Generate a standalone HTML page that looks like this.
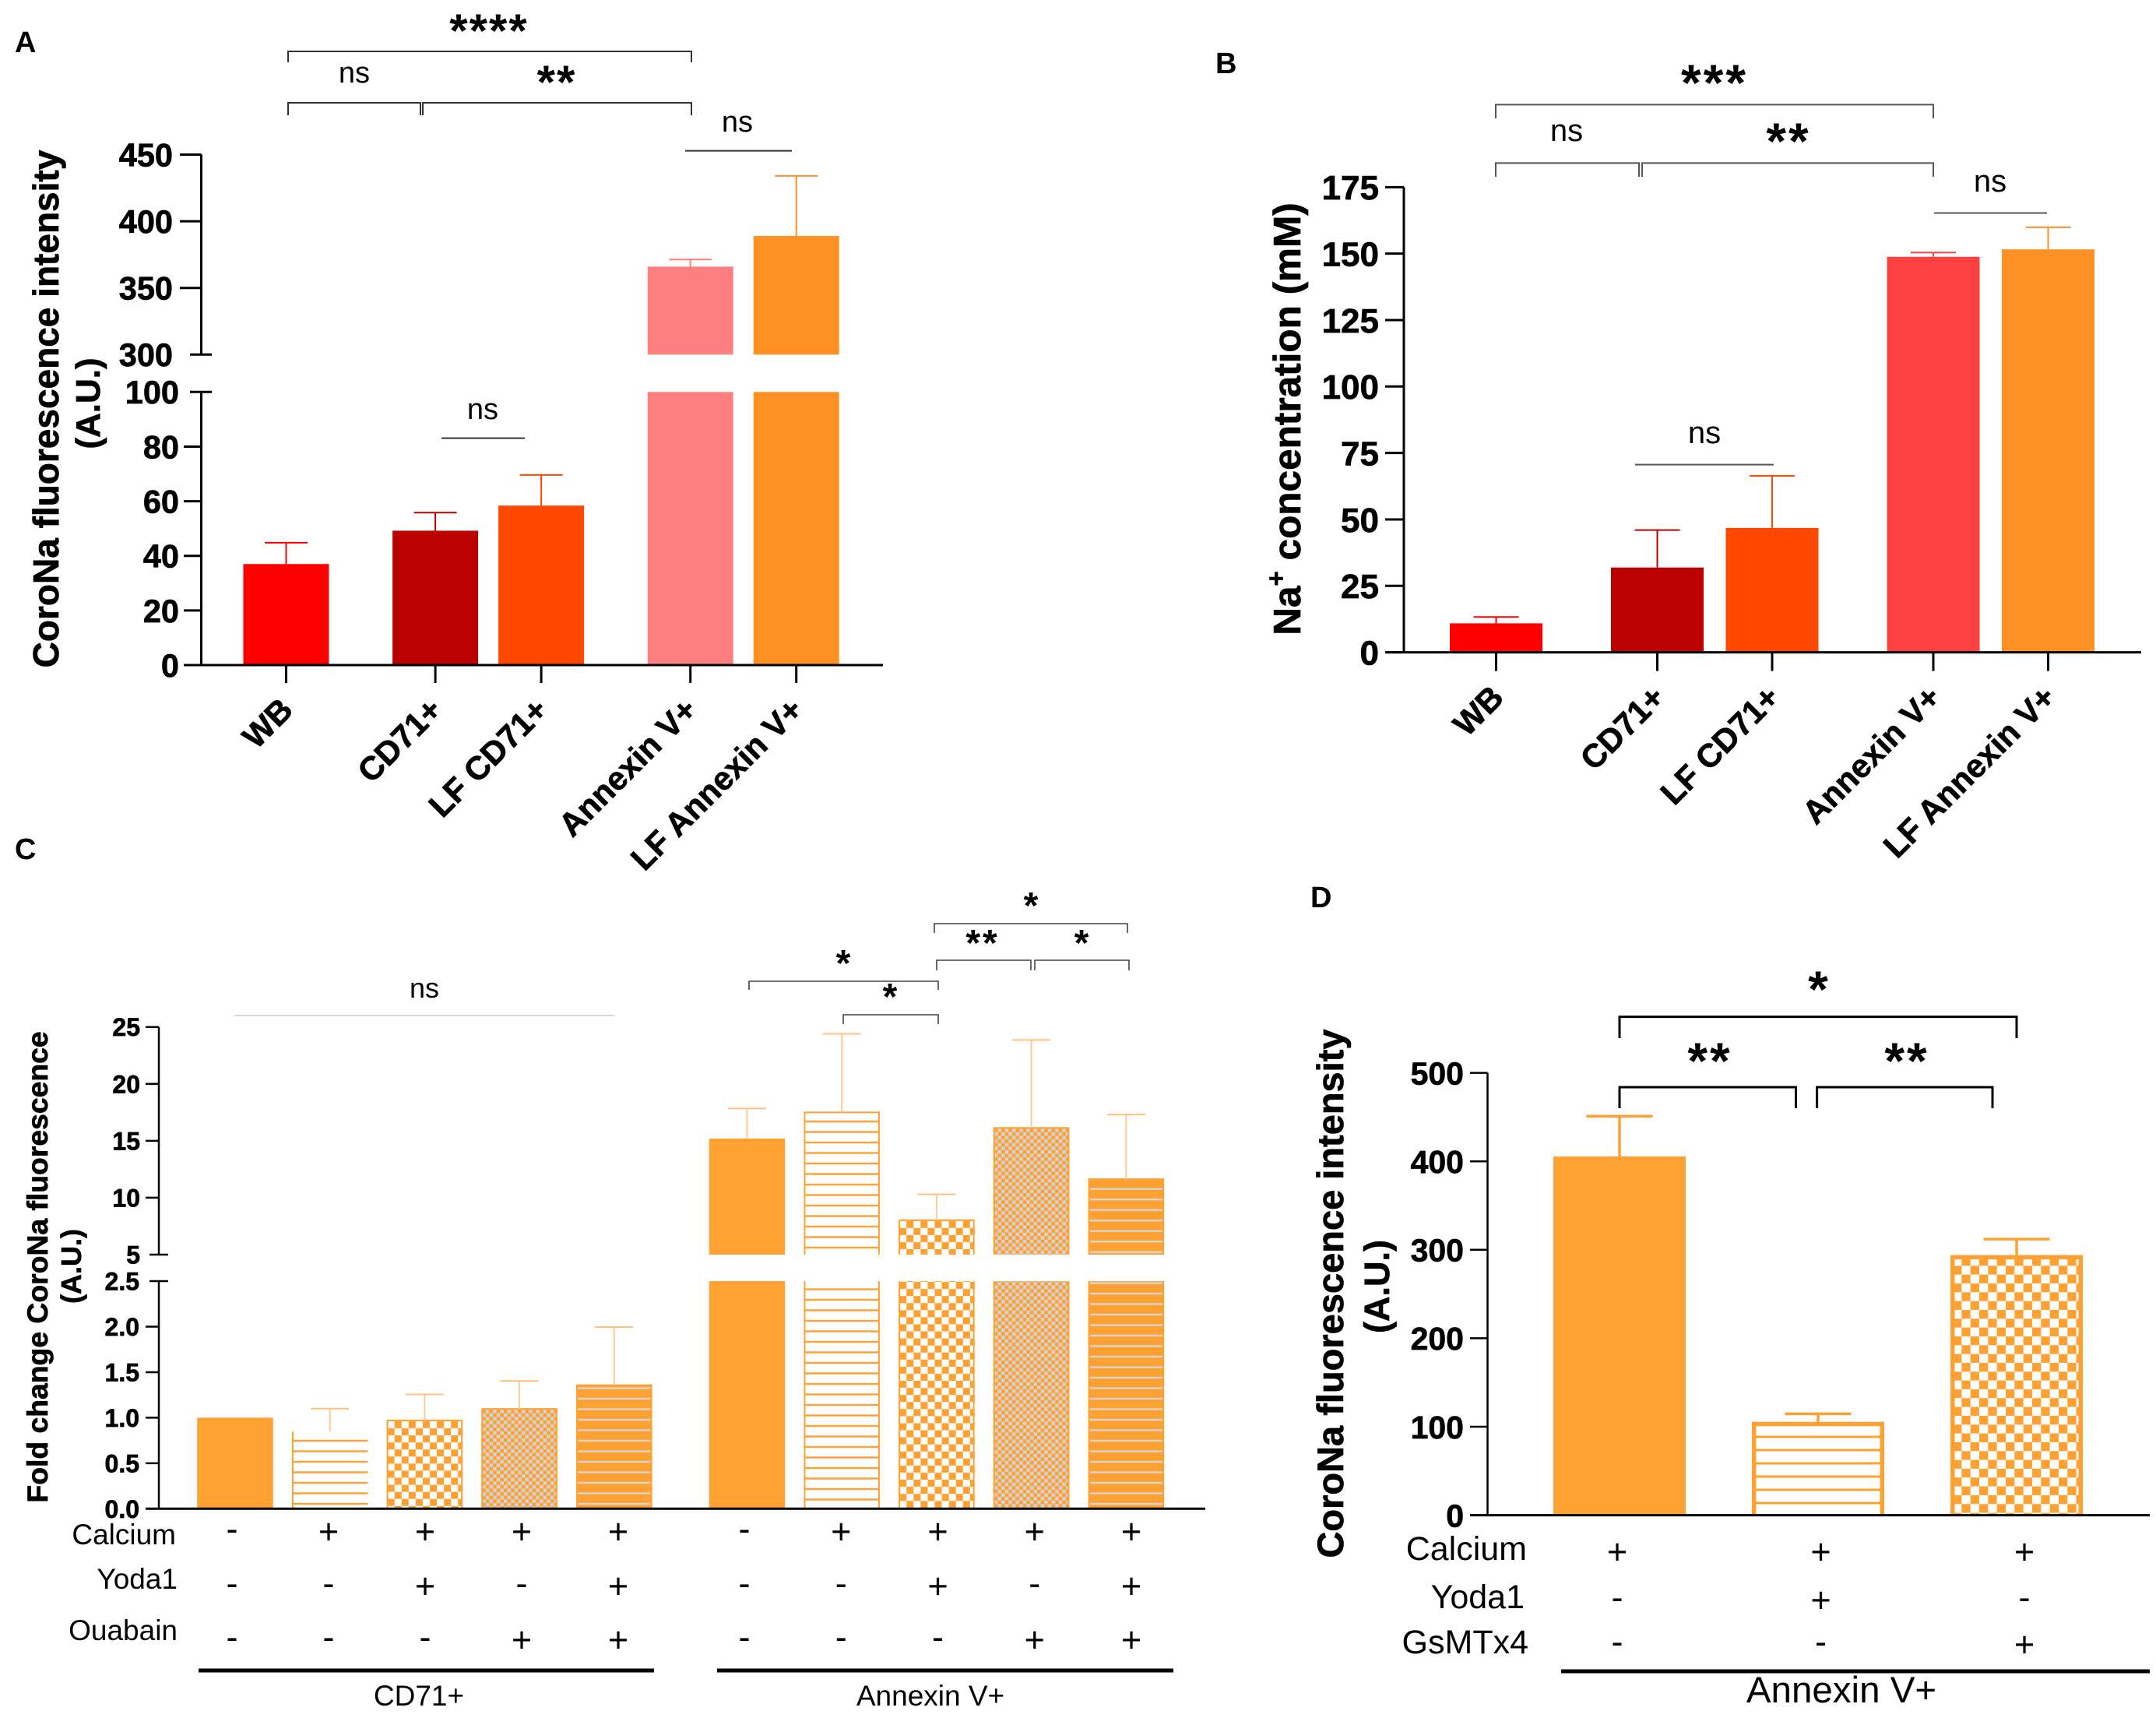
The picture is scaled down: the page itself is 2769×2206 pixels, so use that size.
<!DOCTYPE html>
<html lang="en">
<head>
<meta charset="utf-8">
<title>CoroNa fluorescence and Na+ concentration panels</title>
<style>
html,body{margin:0;padding:0;background:#fff;}
svg{display:block;}
text{font-family:"Liberation Sans",Arial,sans-serif;fill:#000;}
.b{font-weight:bold;}
.m{text-anchor:middle;}
.s{stroke:#000;stroke-width:.7px;}
</style>
</head>
<body>
<svg id="figure" xmlns="http://www.w3.org/2000/svg" width="2769" height="2206" viewBox="0 0 2769 2206">
<defs id="pattern-defs"></defs>
<rect x="0" y="0" width="2769" height="2206" fill="#fff"/>

<g id="panel-a"></g>
<g id="panel-b"></g>
<g id="panel-c"></g>
<g id="panel-d"></g>

<text class="b" x="19" y="67" font-size="38">A</text>
<text class="b" x="1561" y="94" font-size="38">B</text>
<text class="b" x="19" y="1103" font-size="38">C</text>
<text class="b" x="1683" y="1165" font-size="38">D</text>

<!-- Panel A annotations -->
<text class="b m s" font-size="46" transform="translate(75 525) rotate(-90)">CoroNa fluorescence intensity</text>
<text class="b m s" font-size="44" transform="translate(128 518) rotate(-90)">(A.U.)</text>
<g fill="none" stroke="#333" stroke-width="2">
<path d="M370 80V66H888V80"/>
<path d="M370 148V132H540V148"/>
<path d="M543 148V132H888V148"/>
<path d="M880 193.6H1017"/>
<path d="M567 562.6H674"/>
</g>
<text class="b m" font-size="60" letter-spacing="2" x="628" y="60">****</text>
<text class="m" font-size="38" x="455" y="106">ns</text>
<text class="b m" font-size="60" letter-spacing="2" x="715" y="126">**</text>
<text class="m" font-size="38" x="947" y="169">ns</text>
<text class="m" font-size="38" x="620" y="538">ns</text>

<!-- Panel B annotations -->
<text class="b m s" font-size="49.5" transform="translate(1670 538) rotate(-90)">Na<tspan dy="-20" font-size="33">+</tspan><tspan dy="20"> concentration (mM)</tspan></text>
<g fill="none" stroke="#555" stroke-width="2">
<path d="M1921 152V134.4H2483V152"/>
<path d="M1921 227V209.4H2105V227"/>
<path d="M2109 227V209.4H2483V227"/>
<path d="M2484 273.5H2629"/>
<path d="M2100 596.6H2278"/>
</g>
<text class="b m" font-size="66" letter-spacing="3" x="2202" y="129">***</text>
<text class="m" font-size="40" x="2012" y="181">ns</text>
<text class="b m" font-size="66" letter-spacing="3" x="2297" y="204">**</text>
<text class="m" font-size="40" x="2556" y="246">ns</text>
<text class="m" font-size="40" x="2189" y="569">ns</text>

<!-- Panel C annotations -->
<text class="b m s" font-size="37.3" transform="translate(61 1627) rotate(-90)">Fold change CoroNa fluorescence</text>
<text class="b m s" font-size="36" transform="translate(104 1626) rotate(-90)">(A.U.)</text>
<text font-size="37" text-anchor="end" x="226" y="1983">Calcium</text>
<text font-size="37" text-anchor="end" x="228" y="2040">Yoda1</text>
<text font-size="37" text-anchor="end" x="228" y="2106">Ouabain</text>
<rect x="255" y="2142.5" width="585" height="5" fill="#000"/>
<rect x="921" y="2142.5" width="586" height="5" fill="#000"/>
<text class="m" font-size="37" x="538" y="2190">CD71+</text>
<text class="m" font-size="37" x="1195" y="2190">Annexin V+</text>
<g fill="none" stroke="#444" stroke-width="1.6">
<path d="M1200 1198V1186H1448V1198"/>
<path d="M1203 1246V1233H1324V1246"/>
<path d="M1329 1246V1233H1450V1246"/>
<path d="M962 1271V1260H1205V1271"/>
<path d="M1083 1315V1303H1205V1315"/>
</g>
<path d="M301 1304H789" fill="none" stroke="#ccc" stroke-width="1.6"/>
<text class="m" font-size="36" x="545" y="1281">ns</text>
<text class="b m" font-size="48" x="1324" y="1179">*</text>
<text class="b m" font-size="48" letter-spacing="3" x="1262" y="1227">**</text>
<text class="b m" font-size="48" x="1389" y="1227">*</text>
<text class="b m" font-size="48" x="1083" y="1253">*</text>
<text class="b m" font-size="48" x="1143" y="1296">*</text>

<!-- Panel D annotations -->
<text class="b m s" font-size="47" transform="translate(1725 1661) rotate(-90)">CoroNa fluorescence intensity</text>
<text class="b m s" font-size="45" transform="translate(1784 1652) rotate(-90)">(A.U.)</text>
<text font-size="43" text-anchor="end" x="1961" y="2003">Calcium</text>
<text font-size="43" text-anchor="end" x="1958" y="2065">Yoda1</text>
<text font-size="43" text-anchor="end" x="1963" y="2123">GsMTx4</text>
<rect x="2005" y="2143.5" width="756" height="5" fill="#000"/>
<text class="m" font-size="47.5" x="2365" y="2186">Annexin V+</text>
<g fill="none" stroke="#000" stroke-width="3">
<path d="M2080 1333V1305.6H2590V1333"/>
<path d="M2080 1423V1396H2306.5V1423"/>
<path d="M2333.6 1423V1396H2559V1423"/>
</g>
<text class="b m" font-size="66" x="2335" y="1293">*</text>
<text class="b m" font-size="66" letter-spacing="3" x="2196" y="1385">**</text>
<text class="b m" font-size="66" letter-spacing="3" x="2449" y="1385">**</text>
</svg>

<script>
// ---------- Panel A data ----------
const panelACategories = ['WB', 'CD71+', 'LF CD71+', 'Annexin V+', 'LF Annexin V+'];
const panelAGroups = [0, 1, 1, 2, 2];
const panelAValues = [37, 49.2, 58.4, 366, 389];
const panelAErrorTops = [44.8, 55.8, 69.6, 371.3, 434];
const panelATickLabels = [0, 20, 40, 60, 80, 100, 300, 350, 400, 450];

// ---------- Panel B data ----------
const panelBCategories = ['WB', 'CD71+', 'LF CD71+', 'Annexin V+', 'LF Annexin V+'];
const panelBGroups = [0, 1, 1, 2, 2];
const panelBValues = [10.9, 31.9, 46.8, 148.8, 151.6];
const panelBErrorTops = [13.3, 46, 66.4, 150.4, 159.9];
const panelBTickLabels = [0, 25, 50, 75, 100, 125, 150, 175];

// ---------- Panel C data ----------
const panelCGroups = [0, 0, 0, 0, 0, 1, 1, 1, 1, 1];
const panelCValues = [1.0, 0.847, 0.97, 1.096, 1.357, 15.2, 17.5, 8.03, 16.14, 11.63];
const panelCErrorTops = [1.0, 1.10, 1.256, 1.404, 1.996, 17.84, 24.4, 10.3, 23.86, 17.3];
const panelCLowerTicks = ['0.0', '0.5', '1.0', '1.5', '2.0', '2.5'];
const panelCUpperTicks = ['5', '10', '15', '20', '25'];
const panelCCalcium = ['-', '+', '+', '+', '+', '-', '+', '+', '+', '+'];
const panelCYoda1 = ['-', '-', '+', '-', '+', '-', '-', '+', '-', '+'];
const panelCOuabain = ['-', '-', '-', '+', '+', '-', '-', '-', '+', '+'];

// ---------- Panel D data ----------
const panelDValues = [405.5, 105.5, 294];
const panelDErrorTops = [451, 114.6, 312];
const panelDTickLabels = [0, 100, 200, 300, 400, 500];
const panelDCalcium = ['+', '+', '+'];
const panelDYoda1 = ['-', '+', '-'];
const panelDGsMTx4 = ['-', '-', '+'];

// ---------- Axis functions ----------
function yA(v) { return v <= 100 ? 854 - v * 3.507 : 455.3 - (v - 300) * 1.712; }
function xA(i) { return 367.5 + i * 136 + panelAGroups[i] * 55.6; }
function yB(v) { return 837.6 - v * 3.413; }
function xB(i) { return 1921.5 + i * 147.5 + panelBGroups[i] * 59.5; }
function yC(v) { return v <= 2.5 ? 1937.3 - v * 116.9 : 1611 - (v - 5) * 14.615; }
function xC(i) { return 302 + i * 121.7 + panelCGroups[i] * 49; }
function signXC(i) { return panelCGroups[i] ? 956 + (i - 5) * 124.25 : 298 + i * 124; }
function yD(v) { return 1945.6 - v * 1.136; }
function xD(i) { return 2080 + i * 255; }
function signXD(i) { return 2077 + i * 261.5; }

const SVG_NS = 'http://www.w3.org/2000/svg';
const ORANGE = '#ffa033';
const defs = document.getElementById('pattern-defs');
let patternId = 0;

function mk(parent, tag, attrs, txt) {
  const el = document.createElementNS(SVG_NS, tag);
  for (const k in attrs) el.setAttribute(k, attrs[k]);
  if (txt !== undefined) el.textContent = txt;
  parent.appendChild(el);
  return el;
}

function checkPattern(cell, c1, c2, x0, y0) {
  const id = 'pat' + (patternId++);
  const p = mk(defs, 'pattern', { id: id, patternUnits: 'userSpaceOnUse', x: x0, y: y0, width: cell * 2, height: cell * 2 });
  mk(p, 'rect', { x: 0, y: 0, width: cell * 2, height: cell * 2, fill: c2 });
  mk(p, 'rect', { x: 0, y: 0, width: cell, height: cell, fill: c1 });
  mk(p, 'rect', { x: cell, y: cell, width: cell, height: cell, fill: c1 });
  return 'url(#' + id + ')';
}

function linePattern(period, thick, bg, lineColor, anchorY) {
  const id = 'pat' + (patternId++);
  const p = mk(defs, 'pattern', { id: id, patternUnits: 'userSpaceOnUse', x: 0, y: anchorY - thick / 2, width: 40, height: period });
  mk(p, 'rect', { x: 0, y: 0, width: 40, height: period, fill: bg });
  mk(p, 'rect', { x: 0, y: 0, width: 40, height: thick, fill: lineColor });
  return 'url(#' + id + ')';
}

function drawAxisLine(g, x1, y1, x2, y2, w) {
  const el = mk(g, 'line', { x1: x1, y1: y1, x2: x2, y2: y2, stroke: '#000', 'stroke-width': w });
  
  
}

function drawTick(g, x1, y1, x2, y2, w) {
  const el = mk(g, 'line', { x1: x1, y1: y1, x2: x2, y2: y2, stroke: '#000', 'stroke-width': w });
  
  
}

function drawTickLabel(g, x, y, label, fs) {
  const el = mk(g, 'text', { x: x, y: y + fs * 0.36, 'font-size': fs, 'font-weight': 'bold', 'text-anchor': 'end', class: 's' }, label);
  
  
}

function drawBarRect(g, x, y1, y2, w, fill) {
  const el = mk(g, 'rect', { x: x - w / 2, y: y1, width: w, height: y2 - y1, fill: fill });
  
  
  return el;
}

function drawBarBorder(g, d, color, w) {
  const el = mk(g, 'path', { d: d, fill: 'none', stroke: color, 'stroke-width': w });
  
  
}

function drawError(g, x, yBar, yTop, halfCap, lineColor, capColor, w) {
  const stem = mk(g, 'line', { x1: x, y1: yBar, x2: x, y2: yTop, stroke: lineColor, 'stroke-width': w });
  
  
  const cap = mk(g, 'line', { x1: x - halfCap, y1: yTop, x2: x + halfCap, y2: yTop, stroke: capColor, 'stroke-width': w });
  
  
}

function drawRotatedLabel(g, x, y, label, fs) {
  const el = mk(g, 'text', { transform: 'translate(' + x + ' ' + y + ') rotate(-45)', 'font-size': fs, 'font-weight': 'bold', 'text-anchor': 'end', class: 's' }, label);
  
  
}

function drawSign(g, x, y, sign) {
  const fs = 45;
  const el = mk(g, 'text', { x: x, y: y + fs * (sign === '+' ? 0.35 : 0.28), 'font-size': fs, 'text-anchor': 'middle' }, sign);
  
  
}

// ---------- Panel A ----------
(function () {
  const g = document.getElementById('panel-a');
  const colors = ['#ff0000', '#bb0000', '#ff4800', '#ff8080', '#ff9124'];
  panelAValues.forEach(function (v, i) {
    const x = xA(i);
    drawBarRect(g, x, yA(Math.min(v, 100)), yA(0), 110, colors[i]);
    if (v > 100) drawBarRect(g, x, yA(v), yA(300), 110, colors[i]);
    drawError(g, x, yA(v), yA(panelAErrorTops[i]), 27.5, colors[i], colors[i], 2);
    drawTick(g, x, yA(0), x, yA(0) + 23, 3);
    drawRotatedLabel(g, x + 11, 914, panelACategories[i], 42);
  });
  drawAxisLine(g, 258.5, yA(450), 258.5, yA(300), 3);
  drawAxisLine(g, 258.5, yA(100), 258.5, yA(0), 3);
  drawAxisLine(g, 236, yA(0), 1134, yA(0), 3);
  panelATickLabels.forEach(function (t) {
    const broken = t === 100 || t === 300;
    const upper = t >= 300;
    const left = broken ? 244 : (upper ? 231 : 236);
    drawTick(g, left, yA(t), broken ? 272 : 258.5, yA(t), 3);
    drawTickLabel(g, upper ? 222 : 230, yA(t), String(t), 41.5);
  });
})();

// ---------- Panel B ----------
(function () {
  const g = document.getElementById('panel-b');
  const colors = ['#ff0000', '#bb0000', '#ff4800', '#ff4040', '#ff9124'];
  panelBValues.forEach(function (v, i) {
    const x = xB(i);
    drawBarRect(g, x, yB(v), yB(0), 119, colors[i]);
    drawError(g, x, yB(v), yB(panelBErrorTops[i]), 29, colors[i], colors[i], 2);
    drawTick(g, x, yB(0), x, yB(0) + 24, 3);
    drawRotatedLabel(g, x + 12, 898, panelBCategories[i], 42);
  });
  drawAxisLine(g, 1803, yB(175), 1803, yB(0), 3);
  drawAxisLine(g, 1779, yB(0), 2750, yB(0), 3);
  panelBTickLabels.forEach(function (t) {
    drawTick(g, 1779, yB(t), 1803, yB(t), 3);
    drawTickLabel(g, 1771, yB(t), String(t), 44);
  });
})();

// ---------- Panel C ----------
(function () {
  const g = document.getElementById('panel-c');
  const w = 97.5;
  function kindOf(i) {
    if (panelCCalcium[i] === '-') return 'solid';
    const y = panelCYoda1[i] === '+';
    const o = panelCOuabain[i] === '+';
    return y && o ? 'band' : y ? 'check' : o ? 'fine' : 'hatch';
  }
  function paint(kind, left, topY, isUpper, group) {
    if (kind === 'solid') return ORANGE;
    if (kind === 'hatch') return linePattern(13.5, 2.4, '#fff', ORANGE, isUpper ? 1602 : (group ? 1925.5 : 1931));
    if (kind === 'band') return linePattern(13.5, 2.4, ORANGE, '#d9d5cf', isUpper ? 1607.7 : 1931);
    if (kind === 'check') return checkPattern(9.07, ORANGE, '#fff', isUpper || !group ? left + 10 : left + 1, topY + 1);
    return checkPattern(4.6, ORANGE, '#d3d3d3', left + 1, topY + 1);
  }
  panelCValues.forEach(function (v, i) {
    const x = xC(i);
    const left = x - w / 2;
    const kind = kindOf(i);
    const group = panelCGroups[i];
    const lowerTop = yC(Math.min(v, 2.5));
    drawBarRect(g, x, lowerTop, yC(0), w, paint(kind, left, lowerTop, false, group));
    if (v > 2.5) drawBarRect(g, x, yC(v), yC(5), w, paint(kind, left, yC(v), true, group));
    if (kind !== 'solid') {
      const segments = v > 2.5 ? [[yC(v), yC(5), true], [lowerTop, yC(0), false]] : [[lowerTop, yC(0), true]];
      segments.forEach(function (s) {
        const openBar = kind === 'hatch' && !group;
        let d = 'M' + (left + 1) + ' ' + s[1] + 'V' + s[0];
        if (!openBar) {
          d += (s[2] ? 'H' + (left + w - 1) : 'M' + (left + w - 1) + ' ' + s[0]) + 'V' + s[1];
        }
        drawBarBorder(g, d, ORANGE, 2);
      });
    }
    if (panelCErrorTops[i] > v) drawError(g, x, yC(v), yC(panelCErrorTops[i]), 24.5, '#ffca94', '#ffc080', 2);
    const sx = signXC(i);
    drawSign(g, sx, 1966, panelCCalcium[i]);
    drawSign(g, sx, 2036, panelCYoda1[i]);
    drawSign(g, sx, 2105, panelCOuabain[i]);
  });
  drawAxisLine(g, 204, yC(25), 204, yC(5), 2.5);
  drawAxisLine(g, 204, yC(2.5), 204, yC(0), 2.5);
  drawAxisLine(g, 187, yC(0), 1548, yC(0), 3);
  panelCLowerTicks.forEach(function (t) {
    const v = parseFloat(t);
    const broken = v === 2.5;
    drawTick(g, broken ? 192 : 187, yC(v), broken ? 216 : 204, yC(v), 2.5);
    drawTickLabel(g, 179, yC(v), t, 32);
  });
  panelCUpperTicks.forEach(function (t) {
    const v = parseFloat(t);
    const broken = v === 5;
    drawTick(g, broken ? 192 : 187, yC(v), broken ? 216 : 204, yC(v), 2.5);
    drawTickLabel(g, 180, yC(v), t, 32);
  });
})();

// ---------- Panel D ----------
(function () {
  const g = document.getElementById('panel-d');
  const w = 170;
  const border = 5.5;
  panelDValues.forEach(function (v, i) {
    const x = xD(i);
    const left = x - w / 2;
    const top = yD(v);
    let fill = ORANGE;
    if (panelDYoda1[i] === '+') fill = linePattern(17, 3, '#fff', ORANGE, 1845);
    if (panelDGsMTx4[i] === '+') fill = checkPattern(11.33, ORANGE, '#fff', left + 3, top + 13.7);
    drawBarRect(g, x, top, yD(0), w, fill);
    if (fill !== ORANGE) {
      const h = border / 2;
      drawBarBorder(g, 'M' + (left + h) + ' ' + yD(0) + 'V' + (top + h) + 'H' + (left + w - h) + 'V' + yD(0), ORANGE, border);
    }
    drawError(g, x, top, yD(panelDErrorTops[i]), 42.5, ORANGE, ORANGE, 3.5);
    const sx = signXD(i);
    drawSign(g, sx, 1992, panelDCalcium[i]);
    drawSign(g, sx, 2054, panelDYoda1[i]);
    drawSign(g, sx, 2111, panelDGsMTx4[i]);
  });
  drawAxisLine(g, 1910.5, yD(500), 1910.5, yD(0), 2.5);
  drawAxisLine(g, 1888, yD(0), 2761, yD(0), 3);
  panelDTickLabels.forEach(function (t) {
    drawTick(g, 1888, yD(t), 1910.5, yD(t), 2.5);
    drawTickLabel(g, 1880, yD(t), String(t), 41);
  });
})();
</script>
</body>
</html>
